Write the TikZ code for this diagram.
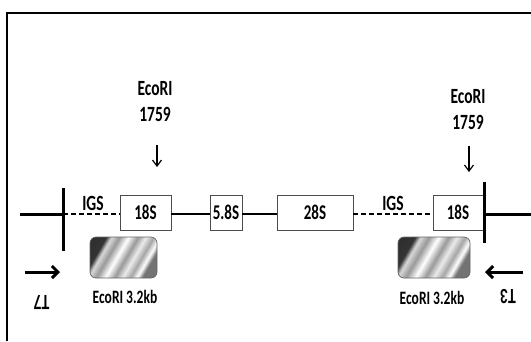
\documentclass[tikz,border=0pt]{standalone}
\usepackage{fontspec}
\setmainfont{Carlito}
\usetikzlibrary{arrows.meta, positioning}

% 文字纵向拉长 (原图的字体是窄长的)
\newcommand{\stretchtxt}[1]{\scalebox{1}[1.4]{#1}}

% 探针的斜条纹灰度渐变
\pgfdeclarehorizontalshading{probestripes}{100bp}{%
  color(0bp)=(black!85); color(28bp)=(black!80); color(32bp)=(black!15);
  color(38bp)=(black!40); color(45bp)=(white); color(52bp)=(black!40);
  color(58bp)=(black!8); color(64bp)=(black!35); color(69bp)=(white);
  color(73bp)=(black!55); color(100bp)=(black!55)}

\tikzset{
  gene/.style={draw=black!70, line width=0.7pt, fill=white, minimum height=35pt,
               inner sep=0pt, font=\fontsize{15}{18}\selectfont\bfseries},
  probe/.style={draw=black!60, line width=0.7pt, rounded corners=6pt,
                shading=probestripes, shading angle=-30, minimum height=41pt},
  lbl/.style={font=\fontsize{15.5}{18}\selectfont\bfseries, inner sep=0pt},
  small/.style={font=\fontsize{13.5}{16}\selectfont\bfseries, inner sep=0pt},
  thickline/.style={line width=3pt},
  igsline/.style={line width=1.5pt, dash pattern=on 5pt off 3pt},
  primer/.style={line width=3pt, -{Straight Barb[length=6pt, width=12pt]}},
  cutarrow/.style={line width=1.2pt, -{Straight Barb[length=6pt, width=9pt]}}
}

\begin{document}
\begin{tikzpicture}[x=1pt, y=-1pt, >=Stealth]

    \useasboundingbox (0,0) rectangle (531,341);

    % 1. 外框 (只有左边和上边)
    \draw[line width=2pt] (7,341) -- (7,13) -- (531,13);

    % 2. rDNA 各区段
    \def\yM{214}   % 主线的纵坐标
    \node[gene, minimum width=51pt] (s18a) at (145.5,212.5) {\stretchtxt{18S}};
    \node[gene, minimum width=32pt] (s58)  at (226,212.5)   {\stretchtxt{5.8S}};
    \node[gene, minimum width=76pt] (s28)  at (315,212.5)   {\stretchtxt{28S}};
    \node[gene, minimum width=50pt] (s18b) at (458,212.5)   {\stretchtxt{18S}};

    \coordinate (lend) at (20,\yM);
    \coordinate (ltick) at (63,\yM);
    \coordinate (rend) at (531,\yM);

    % 连接线
    \draw[thickline] (lend) -- (ltick);
    \draw[igsline] (ltick) -- (s18a.west |- ltick);
    \draw[line width=1.2pt] (s18a.east |- ltick) -- (s58.west |- ltick);
    \draw[line width=1.2pt] (s58.east |- ltick) -- (s28.west |- ltick);
    \draw[igsline] (s28.east |- ltick) -- (s18b.west |- ltick);
    \draw[thickline] (s18b.east |- rend) -- (rend);

    % 重复单元边界的竖线
    \draw[thickline] (63,188) -- (63,251);
    \draw[thickline] (484,182) -- (484,243);

    % 3. IGS 标注
    \node[lbl] (igsa) at (93,203) {\stretchtxt{IGS}};
    \node[lbl] (igsb) at (393,203) {\stretchtxt{IGS}};

    % 4. EcoRI 酶切位点
    \node[lbl] (cuta) at (155,89) {\stretchtxt{EcoRI}};
    \node[lbl, below=11pt of cuta] (numa) {\stretchtxt{1759}};
    \node[lbl] (cutb) at (468,96.5) {\stretchtxt{EcoRI}};
    \node[lbl, below=11pt of cutb] (numb) {\stretchtxt{1759}};
    \coordinate (taila) at (157,145);
    \coordinate (tipa) at (157,167);
    \coordinate (tailb) at (469,146);
    \coordinate (tipb) at (469,172);
    \draw[cutarrow] (taila) -- (tipa);
    \draw[cutarrow] (tailb) -- (tipb);

    % 5. 探针 EcoRI 3.2kb
    \node[probe, minimum width=67pt] (proba) at (123.5,257.5) {};
    \node[probe, minimum width=72pt] (probb) at (434,257.5) {};
    \node[small] (problbla) at (125,296.5) {\stretchtxt{EcoRI 3.2kb}};
    \node[small] (problblb) at (432,297.5) {\stretchtxt{EcoRI 3.2kb}};

    % 6. 引物 T7 / T3 (文字倒置)
    \node[lbl, rotate=180] (t7) at (41.5,302.5) {\stretchtxt{T7}};
    \node[lbl, rotate=180] (t3) at (508,297) {\stretchtxt{T3}};
    \coordinate (t7a) at (25,272);
    \coordinate (t7b) at (60,272);
    \coordinate (t3a) at (523,272);
    \coordinate (t3b) at (485,272);
    \draw[primer] (t7a) -- (t7b);
    \draw[primer] (t3a) -- (t3b);

\end{tikzpicture}
\end{document}
